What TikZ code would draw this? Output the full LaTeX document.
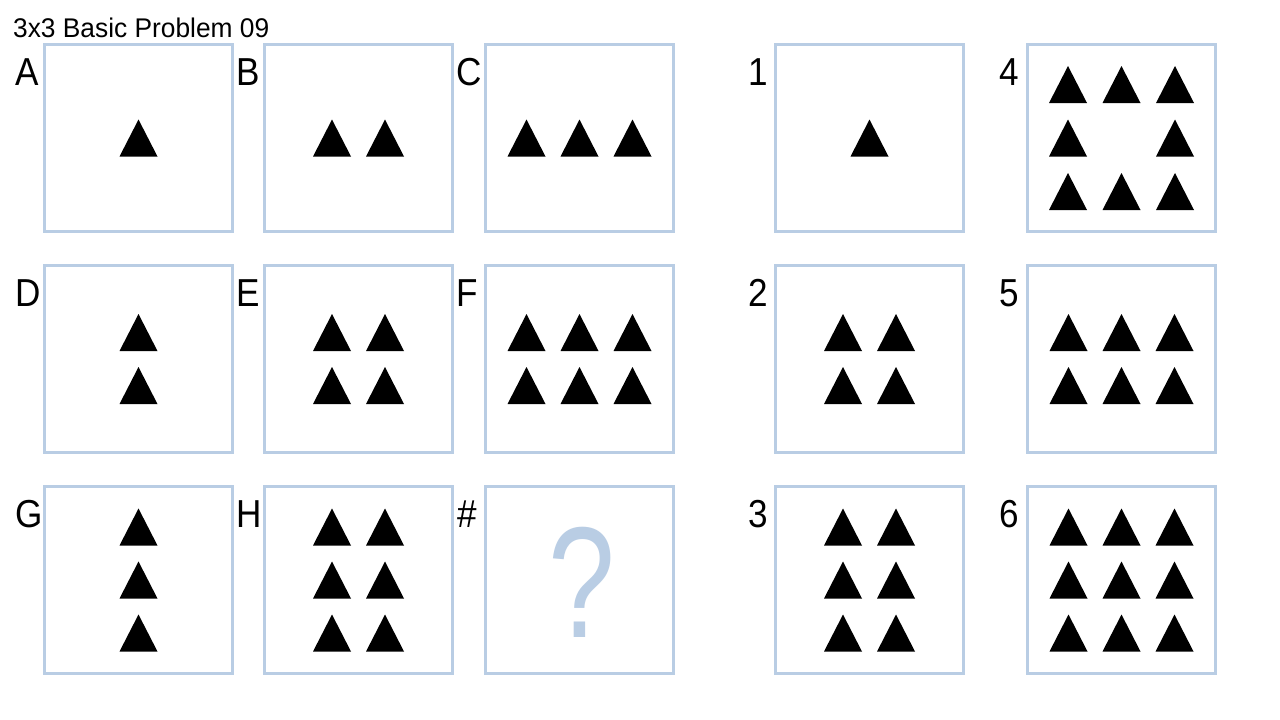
\documentclass[tikz,border=0pt]{standalone}
\usepackage{fontspec}
\setmainfont{Liberation Sans}
\definecolor{boxblue}{RGB}{185,205,228}
\tikzset{
  panel/.style={draw=boxblue,line width=3pt,minimum width=188pt,minimum height=187pt,inner sep=0pt,anchor=north west},
  lab/.style={anchor=base west,inner sep=0pt,font=\fontsize{39}{39}\selectfont,xscale=0.9},
  title/.style={anchor=base west,inner sep=0pt,font=\fontsize{27}{27}\selectfont,xscale=0.975},
  tri/.style={fill=black}
}
\newcommand\trigrid[3]{%
  \begin{scope}[shift={(#1.center)}]
    \foreach \i in {1,...,#2}{
      \foreach \j in {1,...,#3}{
        \fill[tri,shift={({(\i-(#2+1)/2)*53},{(\j-(#3+1)/2)*53})}] (-19,18.5) -- (19,18.5) -- (0,-18.5) -- cycle;
      }
    }
  \end{scope}}
\begin{document}
\begin{tikzpicture}[x=1pt,y=-1pt]
\fill[white] (0,0) rectangle (1280,720);
\useasboundingbox (0,0) rectangle (1280,720);
\node[title] (ttl) at (13,37) {3x3 Basic Problem 09};
% panels
\node[panel] (A) at (43,43) {};
\node[panel] (B) at (263,43) {};
\node[panel] (C) at (484,43) {};
\node[panel] (D) at (43,264) {};
\node[panel] (E) at (263,264) {};
\node[panel] (F) at (484,264) {};
\node[panel] (G) at (43,485) {};
\node[panel] (H) at (263,485) {};
\node[panel] (Q) at (484,485) {};
\node[panel] (a1) at (774,43) {};
\node[panel] (a2) at (774,264) {};
\node[panel] (a3) at (774,485) {};
\node[panel] (a4) at (1026,43) {};
\node[panel] (a5) at (1026,264) {};
\node[panel] (a6) at (1026,485) {};
% labels
\node[lab] (lA) at (15,85) {A};
\node[lab] (lB) at (236,85) {B};
\node[lab] (lC) at (456,85) {C};
\node[lab] (lD) at (15,306) {D};
\node[lab] (lE) at (236,306) {E};
\node[lab] (lF) at (456,306) {F};
\node[lab] (lG) at (15,527) {G};
\node[lab] (lH) at (236,527) {H};
\node[lab] (lQ) at (457,527) {\#};
\node[lab] (l1) at (748,85) {1};
\node[lab] (l2) at (748,306) {2};
\node[lab] (l3) at (748,527) {3};
\node[lab] (l4) at (999,85) {4};
\node[lab] (l5) at (999,306) {5};
\node[lab] (l6) at (999,527) {6};
% triangles
\trigrid{A}{1}{1}
\trigrid{B}{2}{1}
\trigrid{C}{3}{1}
\trigrid{D}{1}{2}
\trigrid{E}{2}{2}
\trigrid{F}{3}{2}
\trigrid{G}{1}{3}
\trigrid{H}{2}{3}
\trigrid{a1}{1}{1}
\trigrid{a2}{2}{2}
\trigrid{a3}{2}{3}
\trigrid{a5}{3}{2}
\trigrid{a6}{3}{3}
\begin{scope}[shift={(a4.center)}]
  \foreach \px/\py in {-1/-1,0/-1,1/-1,-1/0,1/0,-1/1,0/1,1/1}{
    \fill[tri,shift={({\px*53.5},{\py*53.5})}] (-19,18.5) -- (19,18.5) -- (0,-18.5) -- cycle;
  }
\end{scope}
% question mark
\node[inner sep=0pt,text=boxblue,font=\fontsize{158}{158}\selectfont,xscale=0.76] (qm) at ([shift={(2,2.5)}]Q.center) {?};
\end{tikzpicture}
\end{document}
